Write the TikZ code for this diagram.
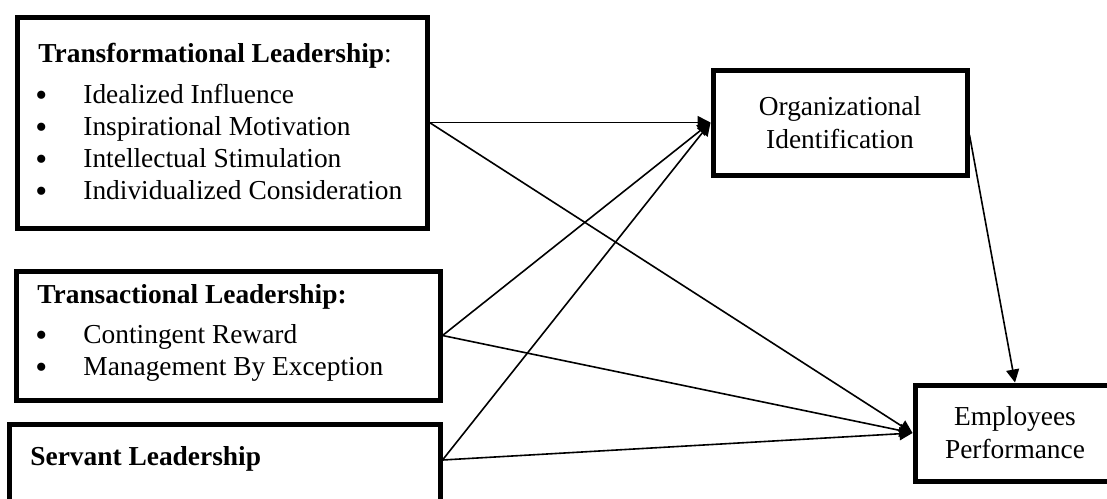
\documentclass[tikz,border=0pt]{standalone}
\usepackage{fontspec}
\setmainfont{Liberation Serif}
\usetikzlibrary{arrows.meta}
\newcommand{\itembul}{\makebox[24pt][l]{\raisebox{-1.8pt}{\fontsize{17}{17}\selectfont\textbullet}}}

\begin{document}
\begin{tikzpicture}[line cap=round,line join=round,>={Triangle[length=6.5pt,width=6.5pt]},x=0.5pt,y=-0.5pt,
box/.style={draw,line width=2.5pt,line join=miter,line cap=rect,inner sep=0pt},
lbl/.style={anchor=base west,inner sep=0pt,font=\fontsize{13.7}{16.5}\selectfont},
link/.style={line width=0.8pt,->}]
\useasboundingbox (0,0) rectangle (1107,498);
% boxes
\node[box,minimum width=205pt,minimum height=105.5pt] (tl) at (222,122.5) {};
\node[box,minimum width=212pt,minimum height=64.5pt] (ta) at (228,335.5) {};
\node[box,minimum width=215.5pt,minimum height=41pt] (sl) at (224.5,465) {};
\node[box,minimum width=127pt,minimum height=52.5pt,align=center,font=\fontsize{13.7}{16.5}\selectfont] (oi) at (840,122.5) {Organizational\\Identification};
\node[box,minimum width=100pt,minimum height=48pt,align=center,font=\fontsize{13.7}{16.5}\selectfont] (ep) at (1015,433) {Employees\\Performance};
% texts
\node[lbl] (tl-t) at (38,62) {\textbf{Transformational Leadership}:};
\node[lbl] (tl-1) at (35,103) {\itembul Idealized Influence};
\node[lbl] (tl-2) at (35,135) {\itembul Inspirational Motivation};
\node[lbl] (tl-3) at (35,167) {\itembul Intellectual Stimulation};
\node[lbl] (tl-4) at (35,199) {\itembul Individualized Consideration};
\node[lbl] (ta-t) at (37,303) {\textbf{Transactional Leadership:}};
\node[lbl] (ta-1) at (35,343) {\itembul Contingent Reward};
\node[lbl] (ta-2) at (35,375) {\itembul Management By Exception};
\node[lbl] (sl-t) at (30,465) {\textbf{Servant Leadership}};
% links
\coordinate (sl-out) at ([yshift=2.5pt]sl.east);
\coordinate (oi-out) at ([yshift=-6.25pt]oi.east);
\draw[link] (tl.east) -- (oi.west);
\draw[link] (tl.east) -- (ep.west);
\draw[link] (ta.east) -- (oi.west);
\draw[link] (ta.east) -- (ep.west);
\draw[link] (sl-out) -- (oi.west);
\draw[link] (sl-out) -- (ep.west);
\draw[link] (oi-out) -- (ep.north);
\end{tikzpicture}
\end{document}
